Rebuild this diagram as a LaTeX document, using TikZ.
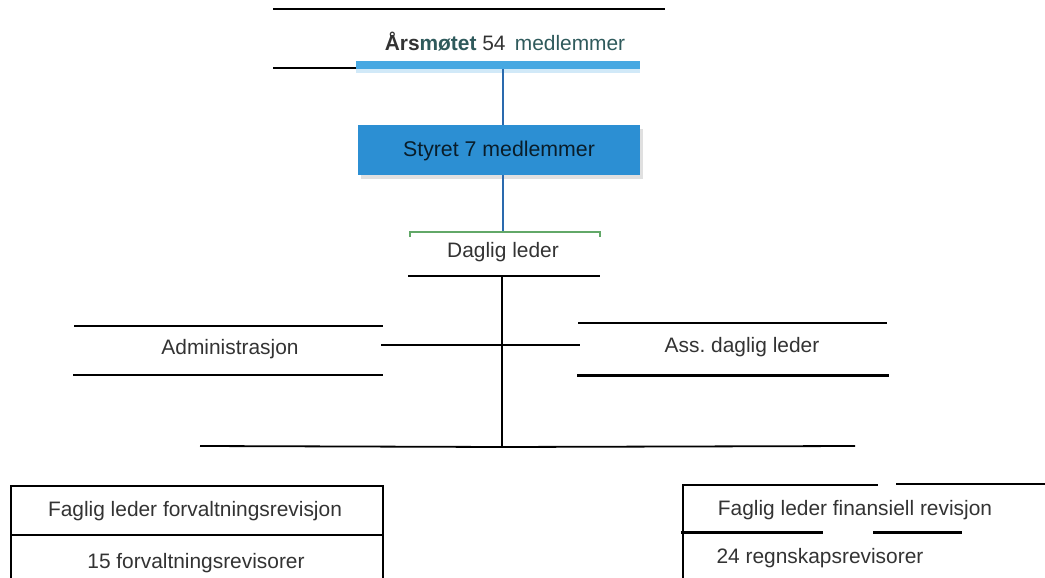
\documentclass[tikz,border=0pt]{standalone}
\usepackage{fontspec}
\setmainfont{Liberation Sans}
\begin{document}
\begin{tikzpicture}[x=1pt,y=-1pt,
  lbl/.style={text=txt,font=\fontsize{20.9}{24}\selectfont,inner sep=0pt,anchor=center},
  rule/.style={line width=1.6pt,draw=black},
  thick rule/.style={line width=3pt,draw=black},
  blueline/.style={line width=1.6pt,draw=bluel},
  boxline/.style={line width=1.8pt,draw=black}]
\definecolor{txt}{HTML}{333333}
\definecolor{tealt}{HTML}{2F5A5C}
\definecolor{bluel}{HTML}{2A6AAE}
\definecolor{band}{HTML}{46A8E2}
\definecolor{boxfill}{HTML}{2C8FD3}
\definecolor{greenl}{HTML}{62A868}
\useasboundingbox (0,0) rectangle (1045,578);
\fill[white] (0,0) rectangle (1045,578);
% Årsmøtet
\draw[rule] (273,9) -- (665,9);
\node[lbl] (aars) at (505,42) {\textbf{Års\textcolor{tealt}{møtet}} 54\, \textcolor{tealt}{medlemmer}};
\draw[line width=2.6pt] (273,68) -- (357,68);
\fill[band] (356,61.5) rectangle (640,69.5);
\fill[band!25] (356,69.5) rectangle (640,73);
\coordinate (bandc) at (503,69);
% Styret
\fill[black!12] (361,129) rectangle (643,179);
\node[fill=boxfill,minimum width=282pt,minimum height=50pt,inner sep=0pt] (styret) at (499,150) {};
\node[text=black!80!boxfill,font=\fontsize{21.3}{24}\selectfont,inner sep=0pt] (styrett) at (499,151) {Styret 7 medlemmer};
\draw[blueline] (bandc) -- (styret.north -| bandc);
\coordinate (gtop) at (503,232);
\draw[blueline] (styret.south -| bandc) -- (gtop);
\draw[greenl,line width=1.2pt] (410,237) -- (410,232) -- (600,232) -- (600,237);
% Daglig leder
\node[lbl] (daglig) at (503,252) {Daglig leder};
\draw[line width=2.6pt] (408,276) -- (600,276);
\coordinate (dl) at (502,276);
\coordinate (mid) at (502,345);
\coordinate (bot) at (502,447);
\draw[line width=2pt] (dl) -- (bot);
% Administrasjon
\draw[rule] (74,326) -- (383,326);
\draw[rule] (73,375) -- (383,375);
\node[lbl] (admin) at (230,349) {Administrasjon};
\coordinate (adminr) at (381,345);
\coordinate (assl) at (580,345);
\draw[line width=1.8pt] (adminr) -- (mid) -- (assl);
% Ass. daglig leder
\draw[rule] (578,323) -- (887,323);
\draw[thick rule] (577,375) -- (889,375);
\node[lbl] (ass) at (742,347) {Ass.\ daglig leder};
% horizontal bar
\coordinate (barl) at (200,446);
\coordinate (barr) at (855,446);
\draw[line width=1.8pt] (barl) -- (bot) -- (barr);
% Left bottom box
\draw[boxline] (11,600) -- (11,486) -- (383,486) -- (383,600);
\draw[boxline] (11,535) -- (383,535);
\node[lbl] (fagf) at (195,511) {Faglig leder forvaltningsrevisjon};
\node[lbl] (fagfr) at (196,563) {15 forvaltningsrevisorer};
% Right bottom box
\draw[line width=2pt] (683,484) -- (683,600);
\draw[line width=2pt] (683,485) -- (878,485);
\draw[line width=2pt] (896,484) -- (1045,484);
\draw[thick rule] (681,532) -- (823,532);
\draw[thick rule] (873,532) -- (962,532);
\node[lbl] (fagfin) at (855,510) {Faglig leder finansiell revisjon};
\node[lbl] (fagrr) at (820,558) {24 regnskapsrevisorer};
\end{tikzpicture}
\end{document}
